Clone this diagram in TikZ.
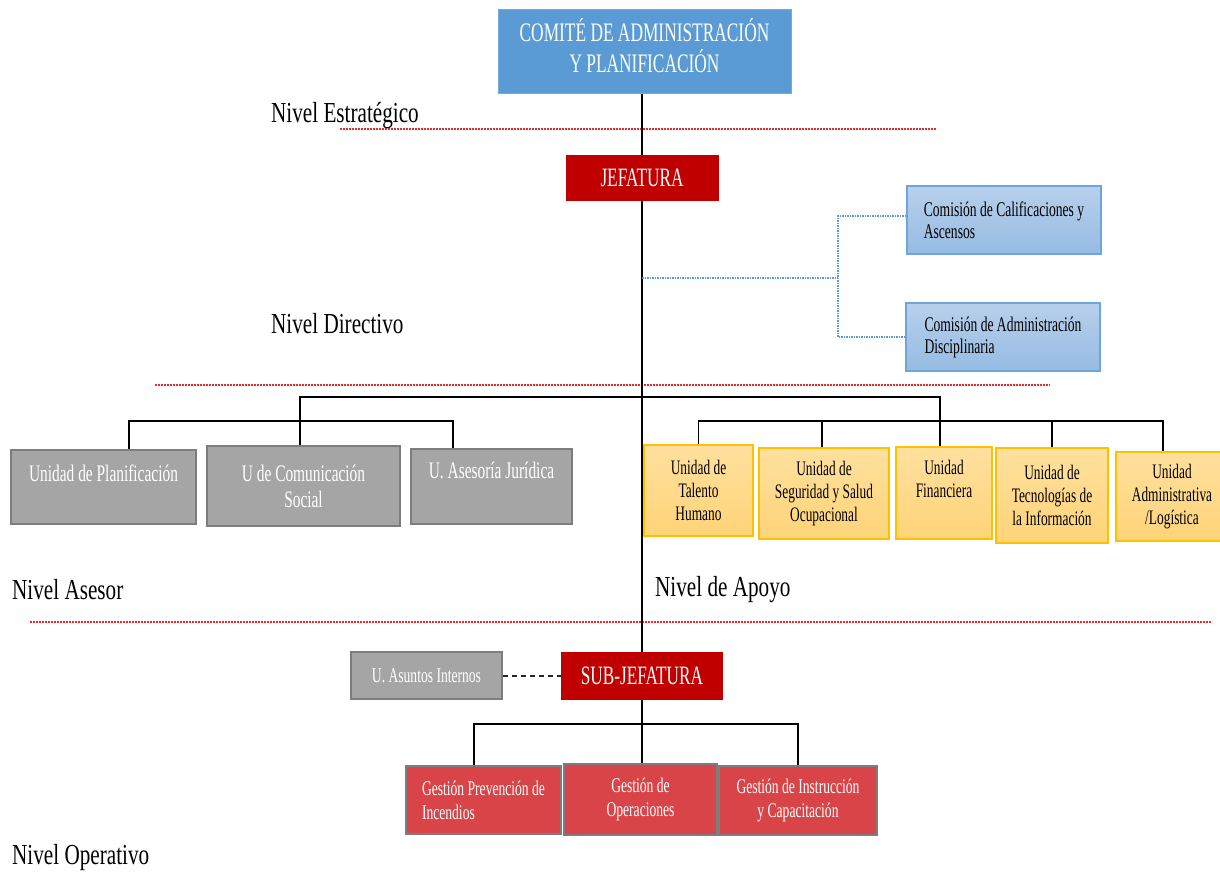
\documentclass[tikz,border=0pt]{standalone}
\usepackage{fontspec}
\setmainfont{Liberation Serif}[FakeStretch=0.73]
\newfontfamily\boxfont{Liberation Serif}[FakeStretch=0.65]
\definecolor{cBlue}{RGB}{91,155,213}
\definecolor{cRed}{RGB}{192,0,0}
\definecolor{cComA}{RGB}{184,208,236}
\definecolor{cComB}{RGB}{150,187,226}
\definecolor{cComD}{RGB}{110,165,220}
\definecolor{cGray}{RGB}{165,165,165}
\definecolor{cGrayD}{RGB}{125,125,125}
\definecolor{cOrA}{RGB}{255,224,158}
\definecolor{cOrB}{RGB}{255,212,120}
\definecolor{cOrD}{RGB}{255,192,0}
\definecolor{cGest}{RGB}{217,68,72}
\definecolor{cSep}{RGB}{240,40,40}
\begin{document}
\begin{tikzpicture}[x=1pt,y=-1pt,
  box/.style={draw, inner sep=0pt, align=center},
  comite/.style={box, fill=cBlue, draw=cBlue!85!white, line width=1pt, text=white, font=\boxfont\fontsize{26.7}{31}\selectfont},
  jef/.style={box, fill=cRed, draw=cRed, line width=1pt, text=white, font=\boxfont\fontsize{26.5}{28}\selectfont},
  comis/.style={box, top color=cComA, bottom color=cComB, draw=cComD, line width=1.5pt, text=black, align=left, font=\boxfont\fontsize{20.9}{22}\selectfont},
  graybox/.style={box, fill=cGray, draw=cGrayD, line width=2.2pt, text=white, font=\boxfont\fontsize{23.7}{26}\selectfont},
  orbox/.style={box, top color=cOrA, bottom color=cOrB, draw=cOrD, line width=1.5pt, text=black, font=\boxfont\fontsize{20.6}{23}\selectfont},
  gest/.style={box, fill=cGest, draw=cGrayD, line width=2.2pt, text=white, font=\boxfont\fontsize{20.9}{24}\selectfont},
  level/.style={anchor=west, inner sep=0pt, text=black, font=\fontsize{29}{32}\selectfont},
  conn/.style={draw=black, line width=1.3pt},
  bdot/.style={draw=cBlue, line width=1.3pt, dash pattern=on 1.5pt off 1pt},
  sep/.style={draw=cSep, line width=1.1pt, dash pattern=on 2pt off 1pt},
  dashconn/.style={draw=black!85, line width=2pt, dash pattern=on 5pt off 4pt}]
\clip (0,0) rectangle (1220,872);
\fill[white] (0,0) rectangle (1220,872);

% level separators
\draw[sep] (340,129) -- (937,129);
\draw[sep] (155,385) -- (1050,385);
\draw[sep] (30,622) -- (1212,622);

% level labels
\node[level] (lvE) at (271,116) {Nivel Estratégico};
\node[level] (lvD) at (271,324) {Nivel Directivo};
\node[level] (lvA) at (12,590) {Nivel Asesor};
\node[level] (lvP) at (655,590) {Nivel de Apoyo};
\node[level] (lvO) at (12,858) {Nivel Operativo};

% boxes
\node[comite, minimum width=293pt, minimum height=84pt, text depth=12pt] (comite) at (644.5,52) {COMITÉ DE ADMINISTRACIÓN\\Y PLANIFICACIÓN};
\node[jef, minimum width=152pt, minimum height=45pt] (jefatura) at (642,177.5) {JEFATURA};
\node[comis, minimum width=194pt, minimum height=68pt] (calif) at (1004,220) {Comisión de Calificaciones y\\Ascensos};
\node[comis, minimum width=194pt, minimum height=68pt] (discip) at (1003,337) {Comisión de Administración\\Disciplinaria};

\node[graybox, minimum width=185pt, minimum height=74pt, text depth=27pt] (planif) at (103.5,487) {Unidad de Planificación};
\node[graybox, minimum width=193pt, minimum height=80pt] (comunic) at (303.5,486) {U de Comunicación\\Social};
\node[graybox, minimum width=161pt, minimum height=75pt, text depth=32pt] (asesoria) at (491.5,486.5) {U. Asesoría Jurídica};

\node[orbox, minimum width=109pt, minimum height=91pt] (talento) at (698.5,490.5) {Unidad de\\Talento\\Humano};
\node[orbox, minimum width=130pt, minimum height=91pt] (seguridad) at (824,493.5) {Unidad de\\Seguridad y Salud\\Ocupacional};
\node[orbox, minimum width=96pt, minimum height=92pt, text depth=28pt] (financiera) at (944,493) {Unidad\\Financiera};
\node[orbox, minimum width=112pt, minimum height=95pt] (tecno) at (1052,495.5) {Unidad de\\Tecnologías de\\la Información};
\node[orbox, minimum width=112pt, minimum height=89pt] (admin) at (1172,496.5) {Unidad\\Administrativa\\/Logística};

\node[graybox, minimum width=151pt, minimum height=47pt, font=\boxfont\fontsize{20.9}{22}\selectfont] (asuntos) at (426.5,675.5) {U. Asuntos Internos};
\node[jef, minimum width=161pt, minimum height=47pt] (subjef) at (642,675.5) {SUB-JEFATURA};

\node[gest, minimum width=155pt, minimum height=68pt, align=left] (prevencion) at (483.5,800) {Gestión Prevención de\\Incendios};
\node[gest, minimum width=153pt, minimum height=71pt] (operaciones) at (640.5,799.5) {Gestión de\\Operaciones};
\node[gest, minimum width=158pt, minimum height=69pt] (instruccion) at (798,800.5) {Gestión de Instrucción\\y Capacitación};

% trunk
\draw[conn] (jefatura.north |- comite.south) -- (jefatura.north);
\draw[conn] (jefatura.south) -- (subjef.north);
\draw[conn] (subjef.south) -- (subjef.south |- operaciones.north);

% commissions (dotted)
\coordinate (d1) at (642,278);
\coordinate (d2) at (838,278);
\draw[bdot] (d1) -- (d2);
\draw[bdot] ([yshift=4pt]calif.west) -| (d2) |- (discip.west);

% advisory and support branches
\coordinate (b1) at (642,397);
\draw[conn] ([xshift=-3.5pt]comunic.north) |- (b1) -| ([xshift=-4pt]financiera.north);
\coordinate (b2) at (300,421);
\draw[conn] ([xshift=25.5pt]planif.north) |- (b2) -| ([xshift=-38.5pt]asesoria.north);
\coordinate (b3) at (822,421);
\draw[conn] (talento.north) |- (b3) -| ([xshift=-9pt]admin.north);
\draw[conn] ([xshift=-2pt]seguridad.north) -- ([xshift=-2pt]seguridad.north |- b3);
\draw[conn] (tecno.north) -- (tecno.north |- b3);

% internal affairs
\draw[dashconn] (asuntos.east) -- (subjef.west);

% operational branch
\coordinate (b4) at (642,724);
\draw[conn] ([xshift=-9.5pt]prevencion.north) |- (b4) -| (instruccion.north);
\end{tikzpicture}
\end{document}
